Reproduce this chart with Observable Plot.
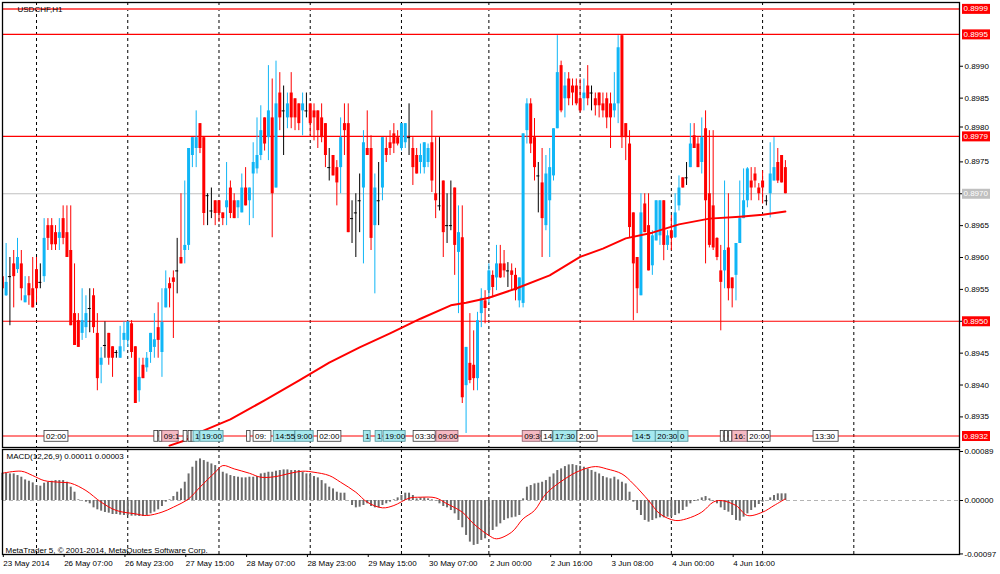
<!DOCTYPE html>
<html><head><meta charset="utf-8">
<script src="https://cdn.jsdelivr.net/npm/d3@7"></script>
<script src="https://cdn.jsdelivr.net/npm/@observablehq/plot@0.6"></script>
<style>
html,body{margin:0;padding:0;background:#fff;}
#chart{position:relative;width:1000px;height:574px;overflow:hidden;background:#fff;}
#chart svg{position:absolute;left:0;display:block;}
</style></head><body><div id="chart"></div>
<script>
const symbolTitle = "USDCHF,H1";
const macdTitle = "MACD(12,26,9) 0.00011 0.00003";
const copyrightText = "MetaTrader 5, © 2001-2014, MetaQuotes Software Corp.";

const open = [0.89570,0.89540,0.89570,0.89590,0.89581,0.89590,0.89529,0.89559,0.89551,0.89581,
0.89561,0.89570,0.89650,0.89650,0.89639,0.89630,0.89661,0.89639,0.89611,0.89512,
0.89501,0.89481,0.89490,0.89520,0.89540,0.89481,0.89431,0.89462,0.89481,0.89460,
0.89451,0.89442,0.89470,0.89470,0.89496,0.89460,0.89391,0.89431,0.89427,0.89451,
0.89459,0.89490,0.89451,0.89521,0.89559,0.89568,0.89579,0.89600,0.89611,0.89619,
0.89760,0.89771,0.89810,0.89788,0.89697,0.89673,0.89689,0.89689,0.89670,0.89678,
0.89709,0.89689,0.89678,0.89670,0.89709,0.89689,0.89731,0.89739,0.89760,0.89819,
0.89788,0.89819,0.89709,0.89858,0.89830,0.89819,0.89858,0.89849,0.89841,0.89830,
0.89830,0.89841,0.89830,0.89830,0.89819,0.89810,0.89741,0.89760,0.89741,0.89741,
0.89810,0.89810,0.89661,0.89670,0.89689,0.89709,0.89771,0.89771,0.89650,0.89689,
0.89709,0.89771,0.89780,0.89794,0.89788,0.89771,0.89780,0.89788,0.89771,0.89760,
0.89749,0.89741,0.89749,0.89780,0.89700,0.89681,0.89720,0.89650,0.89650,0.89709,
0.89608,0.89631,0.89399,0.89434,0.89431,0.89410,0.89512,0.89532,0.89548,0.89572,
0.89568,0.89590,0.89590,0.89579,0.89579,0.89572,0.89532,0.89528,0.89799,0.89841,
0.89788,0.89728,0.89717,0.89650,0.89689,0.89728,0.89802,0.89901,0.89849,0.89880,
0.89869,0.89869,0.89849,0.89849,0.89869,0.89858,0.89849,0.89858,0.89841,0.89849,
0.89841,0.89830,0.89841,0.89948,0.89810,0.89778,0.89670,0.89600,0.89540,0.89684,
0.89650,0.89587,0.89626,0.89634,0.89689,0.89619,0.89642,0.89631,0.89681,0.89725,
0.89725,0.89741,0.89791,0.89778,0.89749,0.89802,0.89700,0.89681,0.89630,0.89579,
0.89579,0.89615,0.89568,0.89572,0.89622,0.89661,0.89689,0.89720,0.89731,0.89709,
0.89720,0.89689,0.89700,0.89720,0.89749,0.89760,0.89741];

const high = [0.89579,0.89622,0.89600,0.89611,0.89630,0.89611,0.89570,0.89570,0.89600,0.89600,
0.89590,0.89661,0.89661,0.89661,0.89650,0.89661,0.89681,0.89681,0.89681,0.89590,
0.89512,0.89551,0.89540,0.89551,0.89551,0.89512,0.89459,0.89499,0.89481,0.89460,
0.89454,0.89492,0.89499,0.89499,0.89501,0.89460,0.89442,0.89442,0.89451,0.89481,
0.89512,0.89529,0.89551,0.89579,0.89568,0.89579,0.89630,0.89700,0.89720,0.89771,
0.89788,0.89830,0.89810,0.89788,0.89700,0.89709,0.89689,0.89689,0.89670,0.89749,
0.89720,0.89700,0.89689,0.89731,0.89741,0.89709,0.89780,0.89819,0.89838,0.89819,
0.89901,0.89880,0.89908,0.89890,0.89869,0.89858,0.89890,0.89849,0.89841,0.89858,
0.89858,0.89841,0.89841,0.89830,0.89841,0.89810,0.89771,0.89760,0.89752,0.89819,
0.89841,0.89841,0.89689,0.89700,0.89731,0.89799,0.89830,0.89791,0.89731,0.89749,
0.89788,0.89788,0.89799,0.89810,0.89799,0.89810,0.89810,0.89841,0.89788,0.89771,
0.89778,0.89780,0.89778,0.89830,0.89788,0.89788,0.89720,0.89700,0.89720,0.89709,
0.89681,0.89681,0.89459,0.89512,0.89485,0.89514,0.89551,0.89548,0.89590,0.89579,
0.89619,0.89619,0.89611,0.89592,0.89590,0.89583,0.89568,0.89794,0.89849,0.89849,
0.89818,0.89749,0.89771,0.89760,0.89771,0.89802,0.89948,0.89908,0.89890,0.89890,
0.89880,0.89880,0.89880,0.89880,0.89901,0.89869,0.89858,0.89858,0.89858,0.89858,
0.89858,0.89890,0.89948,0.89948,0.89810,0.89799,0.89670,0.89600,0.89700,0.89700,
0.89700,0.89642,0.89689,0.89689,0.89689,0.89642,0.89666,0.89700,0.89728,0.89725,
0.89749,0.89810,0.89810,0.89788,0.89819,0.89830,0.89799,0.89799,0.89631,0.89619,
0.89720,0.89700,0.89568,0.89622,0.89720,0.89739,0.89741,0.89741,0.89741,0.89716,
0.89736,0.89697,0.89780,0.89788,0.89771,0.89760,0.89752];

const low = [0.89548,0.89539,0.89493,0.89521,0.89575,0.89532,0.89529,0.89525,0.89521,0.89529,
0.89551,0.89561,0.89611,0.89611,0.89611,0.89611,0.89620,0.89600,0.89493,0.89462,
0.89459,0.89470,0.89473,0.89482,0.89481,0.89391,0.89402,0.89442,0.89431,0.89412,
0.89442,0.89442,0.89452,0.89459,0.89442,0.89371,0.89373,0.89410,0.89420,0.89434,
0.89442,0.89442,0.89412,0.89521,0.89521,0.89473,0.89543,0.89590,0.89590,0.89611,
0.89741,0.89741,0.89763,0.89650,0.89650,0.89661,0.89650,0.89655,0.89650,0.89650,
0.89661,0.89661,0.89661,0.89670,0.89681,0.89650,0.89661,0.89731,0.89752,0.89767,
0.89752,0.89631,0.89709,0.89799,0.89760,0.89802,0.89802,0.89799,0.89799,0.89791,
0.89819,0.89791,0.89783,0.89771,0.89780,0.89741,0.89720,0.89728,0.89681,0.89700,
0.89760,0.89639,0.89622,0.89600,0.89639,0.89590,0.89760,0.89611,0.89543,0.89650,
0.89689,0.89749,0.89760,0.89763,0.89775,0.89767,0.89771,0.89760,0.89713,0.89731,
0.89731,0.89731,0.89741,0.89702,0.89661,0.89673,0.89600,0.89622,0.89642,0.89572,
0.89512,0.89371,0.89324,0.89402,0.89391,0.89391,0.89490,0.89496,0.89528,0.89537,
0.89548,0.89567,0.89568,0.89553,0.89548,0.89532,0.89521,0.89521,0.89778,0.89763,
0.89720,0.89670,0.89600,0.89642,0.89600,0.89720,0.89802,0.89827,0.89819,0.89838,
0.89838,0.89838,0.89827,0.89830,0.89838,0.89830,0.89822,0.89819,0.89819,0.89802,
0.89771,0.89819,0.89810,0.89771,0.89752,0.89631,0.89501,0.89512,0.89540,0.89639,
0.89579,0.89572,0.89626,0.89619,0.89595,0.89611,0.89611,0.89630,0.89673,0.89709,
0.89713,0.89741,0.89771,0.89741,0.89731,0.89590,0.89615,0.89611,0.89595,0.89485,
0.89551,0.89532,0.89521,0.89532,0.89622,0.89661,0.89678,0.89689,0.89709,0.89689,
0.89684,0.89681,0.89662,0.89720,0.89716,0.89717,0.89700];

const close = [0.89551,0.89561,0.89570,0.89570,0.89600,0.89551,0.89540,0.89540,0.89521,0.89551,
0.89561,0.89630,0.89630,0.89620,0.89620,0.89639,0.89630,0.89600,0.89493,0.89462,
0.89459,0.89501,0.89512,0.89520,0.89490,0.89410,0.89442,0.89462,0.89442,0.89442,
0.89451,0.89460,0.89481,0.89499,0.89451,0.89371,0.89412,0.89410,0.89442,0.89481,
0.89471,0.89470,0.89498,0.89551,0.89551,0.89561,0.89579,0.89590,0.89619,0.89771,
0.89788,0.89788,0.89771,0.89669,0.89697,0.89673,0.89669,0.89669,0.89661,0.89689,
0.89669,0.89661,0.89689,0.89709,0.89681,0.89709,0.89749,0.89760,0.89799,0.89778,
0.89830,0.89700,0.89841,0.89819,0.89830,0.89841,0.89819,0.89819,0.89810,0.89841,
0.89830,0.89810,0.89819,0.89799,0.89788,0.89760,0.89741,0.89728,0.89717,0.89788,
0.89799,0.89639,0.89661,0.89670,0.89689,0.89780,0.89760,0.89630,0.89709,0.89689,
0.89788,0.89760,0.89771,0.89778,0.89778,0.89810,0.89810,0.89788,0.89741,0.89731,
0.89760,0.89780,0.89771,0.89720,0.89689,0.89681,0.89639,0.89650,0.89650,0.89619,
0.89639,0.89380,0.89459,0.89407,0.89410,0.89501,0.89536,0.89520,0.89579,0.89553,
0.89590,0.89568,0.89579,0.89579,0.89572,0.89548,0.89568,0.89794,0.89841,0.89778,
0.89741,0.89728,0.89661,0.89731,0.89741,0.89802,0.89890,0.89830,0.89869,0.89849,
0.89858,0.89841,0.89830,0.89858,0.89849,0.89858,0.89838,0.89838,0.89830,0.89819,
0.89819,0.89841,0.89929,0.89788,0.89788,0.89647,0.89590,0.89551,0.89670,0.89639,
0.89579,0.89634,0.89689,0.89689,0.89619,0.89634,0.89630,0.89670,0.89709,0.89709,
0.89725,0.89778,0.89771,0.89741,0.89788,0.89689,0.89619,0.89615,0.89600,0.89561,
0.89611,0.89551,0.89551,0.89622,0.89661,0.89689,0.89739,0.89709,0.89720,0.89700,
0.89709,0.89689,0.89731,0.89741,0.89720,0.89717,0.89700];

// moving average (red line) read at selected bars
const maIndex = [44,48,52,60,69,78,86,94,102,110,118,122,128,135,144,152,158,164,171,178,186,194,200,206];
const maValue = [0.89305,0.89313,0.89326,0.89346,0.89376,0.89407,0.89435,0.89459,0.89481,0.89504,0.89525,0.89529,0.89537,0.89551,0.89572,0.89601,0.89614,0.89630,0.89639,0.89652,0.89661,0.89664,0.89667,0.89672];

// MACD histogram per bar
const macdHist = [0.000495,0.000495,0.000483,0.000483,0.000453,0.000423,0.000374,0.000350,0.000320,0.000272,
0.000260,0.000314,0.000332,0.000350,0.000362,0.000362,0.000362,0.000332,0.000242,0.000151,
0.000012,-0.000003,-0.000030,-0.000060,-0.000133,-0.000169,-0.000193,-0.000217,-0.000230,-0.000254,
-0.000254,-0.000266,-0.000272,-0.000272,-0.000284,-0.000284,-0.000290,-0.000290,-0.000272,-0.000242,
-0.000211,-0.000169,-0.000109,-0.000030,0.000012,0.000072,0.000151,0.000211,0.000332,0.000483,
0.000604,0.000713,0.000755,0.000725,0.000695,0.000664,0.000634,0.000574,0.000513,0.000483,
0.000453,0.000435,0.000423,0.000411,0.000411,0.000423,0.000423,0.000435,0.000483,0.000495,
0.000513,0.000513,0.000532,0.000544,0.000556,0.000556,0.000544,0.000544,0.000544,0.000513,
0.000483,0.000471,0.000435,0.000411,0.000362,0.000302,0.000242,0.000211,0.000151,0.000133,
0.000133,0.000000,-0.000091,-0.000133,-0.000121,-0.000091,-0.000060,-0.000109,-0.000133,-0.000133,
-0.000091,-0.000060,-0.000030,0.000012,0.000048,0.000091,0.000133,0.000133,0.000091,0.000030,
0.000048,0.000048,0.000030,0.000012,-0.000012,-0.000060,-0.000109,-0.000133,-0.000181,-0.000242,
-0.000362,-0.000495,-0.000634,-0.000755,-0.000815,-0.000797,-0.000725,-0.000695,-0.000634,-0.000544,
-0.000483,-0.000423,-0.000362,-0.000332,-0.000314,-0.000302,-0.000272,0.000030,0.000242,0.000272,
0.000302,0.000314,0.000332,0.000362,0.000423,0.000483,0.000544,0.000574,0.000616,0.000646,
0.000652,0.000634,0.000622,0.000604,0.000574,0.000544,0.000513,0.000483,0.000435,0.000411,
0.000393,0.000423,0.000374,0.000332,0.000302,0.000151,-0.000030,-0.000181,-0.000272,-0.000362,
-0.000393,-0.000362,-0.000332,-0.000314,-0.000314,-0.000302,-0.000302,-0.000272,-0.000242,-0.000181,
-0.000121,-0.000060,-0.000018,0.000012,0.000048,0.000072,0.000030,-0.000012,-0.000060,-0.000133,
-0.000181,-0.000211,-0.000272,-0.000362,-0.000374,-0.000302,-0.000242,-0.000181,-0.000133,-0.000072,
-0.000030,0.000000,0.000048,0.000091,0.000121,0.000121,0.000121];

// MACD signal line read at selected bars
const signalIndex = [0,5,8,11,15,18,22,26,30,35,38,42,45,49,52,56,58,61,65,68,72,75,79,82,86,89,93,96,100,103,107,110,114,117,121,124,128,130,134,137,140,143,148,152,156,159,163,166,170,173,177,180,184,187,189,193,196,200,203,206];
const signalValue = [0.000495,0.000532,0.000453,0.000362,0.000332,0.000314,0.000181,-0.000030,-0.000181,-0.000242,-0.000272,-0.000211,-0.000121,0.000030,0.000242,0.000513,0.000634,0.000574,0.000495,0.000423,0.000435,0.000483,0.000532,0.000513,0.000453,0.000332,0.000151,-0.000030,-0.000133,-0.000091,0.000042,0.000060,0.000048,-0.000060,-0.000211,-0.000423,-0.000634,-0.000695,-0.000574,-0.000332,-0.000181,0.000121,0.000393,0.000544,0.000616,0.000574,0.000483,0.000302,0.000000,-0.000242,-0.000362,-0.000332,-0.000211,-0.000030,0.000000,-0.000091,-0.000272,-0.000211,-0.000091,0.000030];

const levelLines = [0.8999, 0.8995, 0.8979, 0.8950, 0.8932];
const bidLevel = 0.8970;
const priceTicks = [0.8935,0.8940,0.8945,0.8950,0.8955,0.8960,0.8965,0.8970,0.8975,0.8985,0.8990];
const coveredTick = [0.8980];
const macdTicks = [0.00089, 0, -0.00097];
const separators = [9,33,57,81,105,128,152,176,200,224];
const timeTickIndex = [0,16,32,48,64,80,96,112,128,144,160,176,192];
const timeTickLabels = ["23 May 2014","26 May 07:00","26 May 23:00","27 May 15:00","28 May 07:00","28 May 23:00","29 May 15:00","30 May 07:00","2 Jun 00:00","2 Jun 16:00","3 Jun 08:00","4 Jun 00:00","4 Jun 16:00"];

// trade labels along the 0.8932 line (bar index span, text, kind)
const tradeStart = [11.1,40.0,41.3,42.1,47.7,49.0,49.8,50.3,52.1,64.4,66.1,71.4,77.1,83.0,95.1,98.2,100.3,108.2,114.2,136.9,141.9,145.0,151.3,166.0,171.9,177.9,189.0,190.1,191.2,192.1,196.1,213.4];
const tradeEnd = [17.4,41.0,42.1,46.4,48.7,49.8,50.6,51.9,58.2,65.3,70.8,77.1,81.9,89.2,96.9,100.0,106.1,114.0,120.0,141.6,144.8,151.3,156.6,171.9,177.9,180.5,189.8,190.9,192.0,196.1,202.1,220.0];
const tradeText = ["02:00","","","09:1","","","","1","19:00","","09:","14:55","9:00","02:00","1","1","19:00","03:30","09:00","09:3","14","17:30","2:00","14:5","20:30","0","","","","16:","20:00","13:30"];
const tradeKind = ["w","w","w","p","w","w","w","c","c","w","w","c","c","w","c","c","c","w","p","p","w","c","w","c","c","c","w","w","w","p","w","w"];

// ---- build tables ----
const UP = "#10b6f6", DOWN = "#ff0000", DOJI = "#000000";
const bars = open.map((o, i) => ({i, o, h: high[i], l: low[i], c: close[i]}));
const colorOf = d => d.c > d.o ? UP : d.c < d.o ? DOWN : DOJI;
const ma = maIndex.map((i, k) => ({i, v: maValue[k]}));
const hist = macdHist.map((v, i) => ({i, v}));
const signal = signalIndex.map((i, k) => ({i, v: signalValue[k]}));
const tradeLevel = levelLines[4];
const trades = tradeStart.map((s, k) => ({s, e: tradeEnd[k], t: tradeText[k], kind: tradeKind[k]}));
const kindFill = {w: "#ffffff", p: "#f5b9c3", c: "#a6e9ef"};
const kindStroke = {w: "#333333", p: "#8a5a66", c: "#4f8f96"};
const boxLevels = [...levelLines, bidLevel];

const xDomain = [0.05, 251.8];
const style = {fontFamily: "'Liberation Sans', Arial, sans-serif", fontSize: "8px", background: "transparent", overflow: "visible", color: "#000"};

const main = Plot.plot({
  width: 1000, height: 448,
  marginLeft: 2, marginRight: 41, marginTop: 2, marginBottom: 1,
  x: {domain: xDomain, axis: null},
  y: {domain: [0.89302, 0.9000], axis: null},
  style,
  marks: [
    Plot.ruleX(separators, {stroke: "#000", strokeDasharray: "3,3", strokeWidth: 1}),
    Plot.ruleY([bidLevel], {stroke: "#c0c0c0", strokeWidth: 1}),
    Plot.ruleY(levelLines, {stroke: d => d === levelLines[0] ? "#ff5c5c" : "#ff0000", strokeWidth: d => d === levelLines[0] ? 2 : 1.2}),
    Plot.ruleX(bars, {x: "i", y1: "l", y2: "h", stroke: colorOf, strokeWidth: 1, clip: true}),
    Plot.ruleX(bars.filter(d => d.o !== d.c), {x: "i", y1: "o", y2: "c", stroke: colorOf, strokeWidth: 3, clip: true}),
    Plot.ruleY(bars.filter(d => d.o === d.c), {x1: d => d.i - 0.4, x2: d => d.i + 0.4, y: "o", stroke: DOJI, strokeWidth: 1}),
    Plot.line(ma, {x: "i", y: "v", stroke: "#ff0000", strokeWidth: 2, clip: true}),
    Plot.rect(trades, {x1: "s", x2: "e", y1: () => tradeLevel + 0.00008, y2: () => tradeLevel - 0.00009, fill: d => kindFill[d.kind], stroke: d => kindStroke[d.kind], strokeWidth: 0.8}),
    Plot.text(trades.filter(d => d.t), {x: "s", y: () => tradeLevel - 0.000005, text: "t", textAnchor: "start", dx: 1.5, fill: "#000", fontSize: 8}),
    Plot.frame({stroke: "#000", strokeWidth: 1.3}),
    Plot.axisY({anchor: "right", ticks: priceTicks, tickSize: 3, tickPadding: 2, tickFormat: d3.format(".4f"), label: null, fontSize: 8}),
    Plot.axisY({anchor: "right", ticks: coveredTick, tickSize: 3, tickPadding: 2, tickFormat: d3.format(".4f"), label: null, fontSize: 8, dy: -3}),
    Plot.ruleY(boxLevels, {stroke: d => d === bidLevel ? "#c0c0c0" : "#ff0000", strokeWidth: 10, insetLeft: 960, insetRight: -31}),
    Plot.text(boxLevels, {y: d => d, text: d => d.toFixed(4), frameAnchor: "right", textAnchor: "start", dx: 4, fill: "#ffffff", fontSize: 8}),
    Plot.text([symbolTitle], {frameAnchor: "top-left", dx: 15, dy: 4, fill: "#000", fontSize: 8})
  ]
});
main.style.top = "0px";

const macdPlot = Plot.plot({
  width: 1000, height: 126,
  marginLeft: 2, marginRight: 41, marginTop: 1, marginBottom: 20,
  x: {domain: xDomain},
  y: {domain: [-0.00098, 0.000926], axis: null},
  style,
  marks: [
    Plot.ruleY([0], {stroke: "#b4b4b4", strokeDasharray: "4,3"}),
    Plot.ruleX(separators, {stroke: "#000", strokeDasharray: "3,3", strokeWidth: 1}),
    Plot.ruleX(hist, {x: "i", y1: 0, y2: "v", stroke: "#6b6b6b", strokeWidth: 2}),
    Plot.line(signal, {x: "i", y: "v", stroke: "#ff0000", strokeWidth: 1, curve: "catmull-rom"}),
    Plot.frame({stroke: "#000", strokeWidth: 1.3}),
    Plot.axisY({anchor: "right", ticks: macdTicks, tickSize: 3, tickPadding: 2, tickFormat: d => d.toFixed(5), label: null, fontSize: 8}),
    Plot.axisX({ticks: timeTickIndex, tickSize: 3, tickPadding: 3, textAnchor: "start", dx: 1, label: null, fontSize: 8,
      tickFormat: d => timeTickLabels[timeTickIndex.indexOf(d)]}),
    Plot.text([macdTitle], {frameAnchor: "top-left", dx: 4, dy: 4, fill: "#000", fontSize: 8}),
    Plot.text([copyrightText], {frameAnchor: "bottom-left", dx: 3, dy: -2, fill: "#000", fontSize: 8})
  ]
});
macdPlot.style.top = "448px";

const host = document.getElementById("chart");
host.appendChild(main);
host.appendChild(macdPlot);
</script>
</body></html>
